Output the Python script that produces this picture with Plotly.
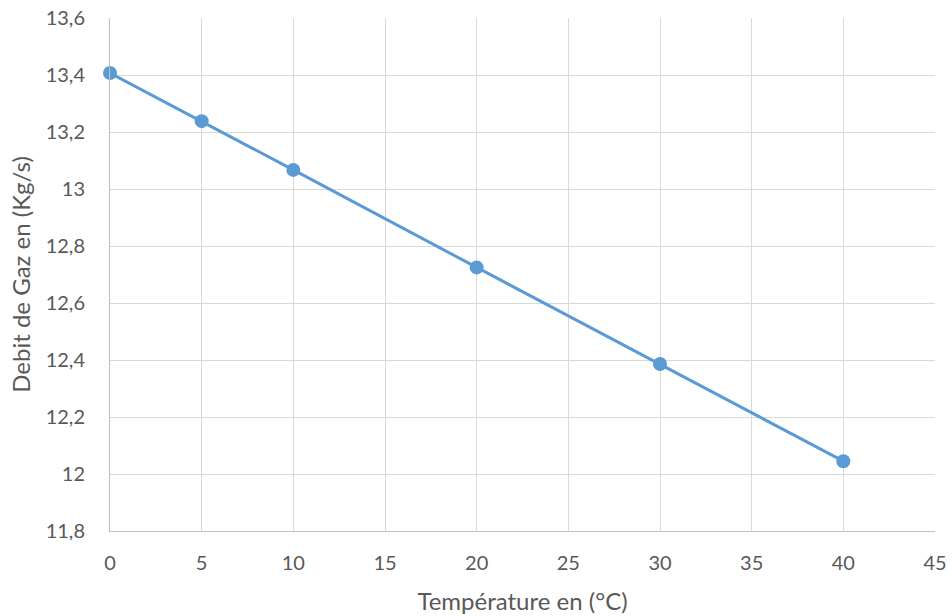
import plotly.graph_objects as go

temperature = [0, 5, 10, 20, 30, 40]
debit = [13.407, 13.238, 13.067, 12.725, 12.386, 12.045]
y_ticks = [11.8, 12.0, 12.2, 12.4, 12.6, 12.8, 13.0, 13.2, 13.4, 13.6]
y_labels = ["11,8", "12", "12,2", "12,4", "12,6", "12,8", "13", "13,2", "13,4", "13,6"]
x_ticks = [0, 5, 10, 15, 20, 25, 30, 35, 40, 45]

color = "#5B9BD5"
font_family = "Lato, Open Sans, sans-serif"

fig = go.Figure()
fig.add_trace(go.Scatter(
    x=temperature, y=debit, mode="lines+markers",
    line=dict(color=color, width=3),
    marker=dict(color=color, size=14),
    showlegend=False, cliponaxis=False,
))

fig.update_layout(
    width=952, height=616,
    margin=dict(l=110, r=17, t=18, b=85, autoexpand=False),
    paper_bgcolor="white", plot_bgcolor="white",
    font=dict(family=font_family, size=20, color="#595959"),
    xaxis=dict(
        range=[0, 45], tickvals=x_ticks, ticktext=[str(v) for v in x_ticks],
        showgrid=True, gridcolor="#d9d9d9", gridwidth=1,
        showline=True, linecolor="#bfbfbf", linewidth=1,
        zeroline=False, ticks="", ticklabelstandoff=14, automargin=False,
        title=dict(text="Température en (°C)", font=dict(size=24, color="#595959"), standoff=20),
    ),
    yaxis=dict(
        range=[11.8, 13.6], tickvals=y_ticks, ticktext=y_labels,
        showgrid=True, gridcolor="#d9d9d9", gridwidth=1,
        showline=True, linecolor="#bfbfbf", linewidth=1,
        zeroline=False, ticks="", ticklabelstandoff=20, automargin=False,
        title=dict(text="Debit de Gaz en (Kg/s)", font=dict(size=24, color="#595959"), standoff=8),
    ),
)

fig.write_html("out.html")
